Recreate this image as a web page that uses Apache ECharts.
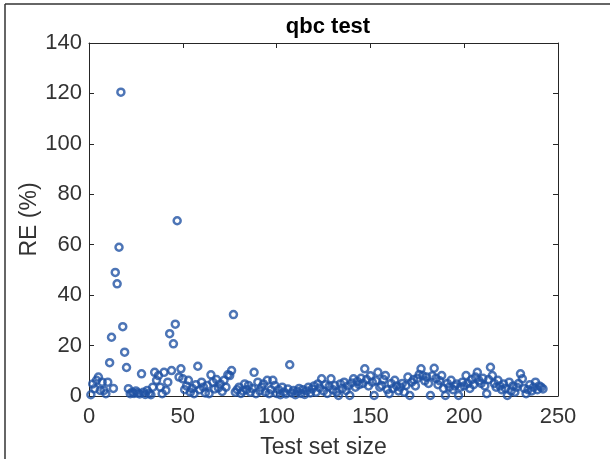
<!DOCTYPE html>
<html>
<head>
<meta charset="utf-8">
<script src="https://cdn.jsdelivr.net/npm/echarts@6/dist/echarts.min.js"></script>
<style>
html,body{margin:0;padding:0;background:#fff;}
#chart{width:610px;height:459px;}
</style>
</head>
<body>
<div id="chart"></div>
<script>
// Test set size (x) runs 1..N; RE (%) values
const reValues = [
  0.5, 4.8, 2.9, 6.2, 7.5, 2.2, 5.5, 2.2, 0.9, 5.5,
  13.2, 23.3, 3.0, 49, 44.5, 59, 120.5, 27.5, 17.4, 11.3,
  2.9, 0.9, 1.5, 1.0, 2.0, 1.2, 0.8, 8.8, 1.5, 0.6,
  2.2, 1.0, 0.5, 3.5, 9.4, 6.2, 8.1, 3.5, 0.9, 9.4,
  2.2, 5.5, 24.7, 10.1, 20.7, 28.5, 69.5, 7.5, 10.8, 6.8,
  2.5, 4.0, 6.2, 1.5, 3.0, 0.9, 4.5, 11.8, 2.5, 5.5,
  3.5, 1.2, 4.2, 0.9, 8.4, 5.5, 2.8, 6.5, 3.2, 4.8,
  1.8, 6.2, 3.5, 8.4, 8.1, 10.1, 32.3, 1.5, 2.5, 3.5,
  1.0, 2.0, 4.8, 2.5, 4.2, 1.5, 3.0, 9.4, 0.9, 5.5,
  2.0, 3.5, 4.8, 1.5, 6.2, 0.9, 2.5, 6.2, 4.2, 1.0,
  2.5, 0.5, 3.5, 1.5, 0.8, 2.8, 12.4, 1.2, 2.2, 0.5,
  1.8, 3.0, 1.0, 2.5, 0.6, 2.0, 3.5, 1.2, 2.8, 4.0,
  1.5, 4.8, 3.2, 6.8, 2.0, 4.5, 1.0, 3.8, 6.8, 2.5,
  4.2, 1.5, 0.2, 4.8, 3.0, 5.5, 2.2, 4.0, 0.2, 5.2,
  6.8, 3.5, 5.8, 4.5, 7.0, 5.0, 10.8, 6.5, 4.0, 8.0,
  5.5, 0.2, 6.0, 9.4, 3.5, 4.2, 6.5, 8.1, 2.5, 0.9,
  5.0, 3.0, 6.2, 4.0, 2.0, 3.5, 5.0, 1.5, 4.2, 7.5,
  0.2, 5.5, 6.5, 4.0, 7.0, 8.5, 10.8, 8.0, 6.0, 7.5,
  5.0, 0.2, 8.0, 11.0, 7.0, 4.5, 6.0, 8.1, 3.0, 0.2,
  5.0, 3.5, 6.2, 2.5, 4.0, 4.8, 0.2, 3.5, 5.5, 4.0,
  8.1, 5.0, 3.0, 6.5, 4.5, 7.5, 9.4, 6.0, 5.0, 7.0,
  4.0, 0.9, 6.5, 11.4, 8.1, 5.0, 3.5, 6.2, 4.0, 2.5,
  4.8, 3.0, 0.2, 5.5, 2.0, 4.0, 1.5, 3.5, 5.0, 8.8,
  6.8, 3.0, 0.9, 2.5, 4.5, 2.0, 3.5, 5.5, 2.5, 4.0,
  3.5, 2.8
];
const xTicks = [0, 50, 100, 150, 200, 250];
const yTicks = [0, 20, 40, 60, 80, 100, 120, 140];
const titleText = 'qbc test';
const xTitle = 'Test set size';
const yTitle = 'RE (%)';

const points = reValues.map((v, i) => [i + 1, v]);
const axisColor = '#262626';
const labelColor = '#333333';
const font = 'Liberation Sans, Arial, sans-serif';

const chart = echarts.init(document.getElementById('chart'), null, {renderer: 'canvas'});
const baseAxis = {
  axisLine: {show: true, onZero: false, lineStyle: {color: axisColor, width: 1}},
  axisTick: {show: true, inside: true, length: 5, lineStyle: {color: axisColor}},
  splitLine: {show: false}
};
chart.setOption({
  animation: false,
  backgroundColor: '#ffffff',
  title: {
    text: titleText, left: 323, top: 11, textAlign: 'center',
    textStyle: {fontFamily: font, fontSize: 22, fontWeight: 'bold', color: '#000'}
  },
  grid: {left: 89, right: 52, top: 43, bottom: 63, containLabel: false, outerBoundsMode: 'none'},
  xAxis: [
    Object.assign({}, baseAxis, {
      type: 'value', min: 0, max: 250, interval: 50, position: 'bottom',
      name: xTitle, nameLocation: 'middle', nameGap: 40, nameMoveOverlap: false,
      nameTextStyle: {fontFamily: font, fontSize: 23, color: labelColor},
      axisLabel: {fontFamily: font, fontSize: 22, color: labelColor, margin: 10}
    }),
    Object.assign({}, baseAxis, {
      type: 'value', min: 0, max: 250, interval: 50, position: 'top',
      axisLabel: {show: false}
    })
  ],
  yAxis: [
    Object.assign({}, baseAxis, {
      type: 'value', min: 0, max: 140, interval: 20, position: 'left',
      name: yTitle, nameLocation: 'middle', nameGap: 48, nameRotate: 90, nameMoveOverlap: false,
      nameTextStyle: {fontFamily: font, fontSize: 23, color: labelColor},
      axisLabel: {fontFamily: font, fontSize: 22, color: labelColor, margin: 7}
    }),
    Object.assign({}, baseAxis, {
      type: 'value', min: 0, max: 140, interval: 20, position: 'right',
      axisLabel: {show: false}
    })
  ],
  series: [{
    type: 'scatter',
    xAxisIndex: 0, yAxisIndex: 0,
    data: points,
    symbol: 'circle',
    symbolSize: 7,
    itemStyle: {color: 'rgba(0,0,0,0)', borderColor: '#2152a4', borderWidth: 2.5}
  }],
  graphic: [
    {type: 'line', shape: {x1: 5, y1: 4, x2: 610, y2: 4}, style: {stroke: '#333', lineWidth: 1.5}},
    {type: 'line', shape: {x1: 5, y1: 4, x2: 5, y2: 459}, style: {stroke: '#333', lineWidth: 1.5}}
  ]
});
</script>
</body>
</html>
